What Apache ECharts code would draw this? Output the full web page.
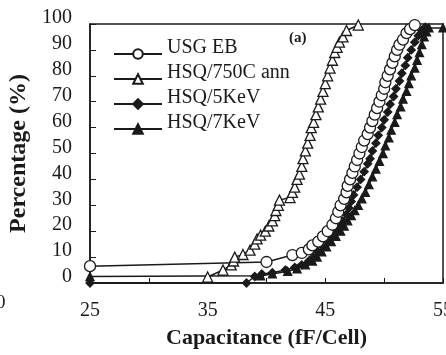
<!DOCTYPE html>
<html><head><meta charset="utf-8">
<script src="https://cdn.jsdelivr.net/npm/echarts@6/dist/echarts.min.js"></script>
<style>html,body{margin:0;padding:0;background:#fff}#c{width:446px;height:355px}</style>
</head><body><div id="c"></div>
<script>
const seriesNames = ['USG EB', 'HSQ/750C ann', 'HSQ/5KeV', 'HSQ/7KeV'];
const xTickLabels = [25, 35, 45, 55];
const yTickLabels = [0, 10, 20, 30, 40, 50, 60, 70, 80, 90, 100];

const usgEB = [[25,6.5],[40.0,8.1],[42.2,10.8],[43.0,11.6],[43.6,13],[43.9,14.5],[44.4,16],[44.8,18],[45.2,20],[45.6,22.5],[45.9,25],[46.1,27.5],[46.3,30],[46.6,32.5],[46.8,35],[46.9,37.5],[47.1,40],[47.3,42.5],[47.5,45],[47.7,47.5],[47.9,50],[48.1,52.5],[48.3,55],[48.6,57.5],[48.8,60],[49.0,62.5],[49.2,65],[49.4,67.5],[49.6,70],[49.8,72.5],[50.0,75],[50.1,77.5],[50.3,80],[50.5,82.5],[50.7,85],[50.9,87.5],[51.1,90],[51.3,92],[51.6,94],[51.9,96.5],[52.2,98],[52.6,99.6]];
const hsq750 = [[35.0,2.3],[36.3,5],[37.0,7],[37.2,8.5],[37.3,10],[38.0,11],[38.6,12.7],[39.0,15],[39.2,17],[39.5,18.5],[39.9,20],[40.2,22],[40.5,24],[40.7,26],[40.8,28],[41.0,30],[41.1,32],[42.0,33],[42.2,35],[42.4,37],[42.6,40],[42.8,42],[43.0,45],[43.1,48],[43.3,51],[43.5,54],[43.7,57],[43.8,60],[44.0,62],[44.2,65],[44.4,68],[44.6,71],[44.8,74],[45.0,77],[45.2,80],[45.4,83],[45.6,86],[45.8,89],[46.0,91],[46.2,93],[46.5,95],[46.8,97.5],[47.8,99.6]];
const hsq5 = [[25,0],[38.3,0],[39.0,2.5],[39.6,3.5],[40.5,4],[41.6,5],[42.4,6],[43.0,7],[43.6,8.5],[44.0,10],[44.4,12],[44.8,14],[45.2,16],[45.6,18],[45.9,20],[46.2,22],[46.5,24],[46.8,26.5],[47.0,29],[47.2,31.5],[47.4,34],[47.7,37],[48.0,40],[48.3,43],[48.6,46],[48.8,48],[49.0,51],[49.3,54],[49.5,57],[49.8,60],[50.0,63],[50.3,66],[50.5,69],[50.8,72],[51.0,75],[51.3,78],[51.5,81],[51.8,84],[52.0,87],[52.3,90],[52.6,93],[52.9,95.5],[53.2,97.5],[53.5,98.8]];
const hsq7 = [[25,2.5],[39.5,2.8],[40.5,3.5],[41.8,4.5],[42.6,5.5],[43.3,7],[43.9,8.5],[44.3,10],[44.7,12],[45.1,14],[45.5,16],[45.9,18],[46.3,20],[46.6,22],[46.9,24],[47.2,26],[47.5,28],[47.8,30],[48.1,32.5],[48.4,35],[48.7,38],[49.0,41],[49.3,44],[49.6,47],[49.9,50],[50.1,53],[50.4,56],[50.6,59],[50.9,62],[51.1,65],[51.4,68],[51.6,71],[51.9,74],[52.1,77],[52.3,80],[52.6,83],[52.8,86],[53.0,89],[53.2,92],[53.4,95],[53.6,97],[53.8,98.5],[55,98.5]];

const INK = '#1a1a1a';
const FONT = '"Liberation Serif", "Times New Roman", serif';
const chart = echarts.init(document.getElementById('c'), null, {renderer: 'canvas'});

function mk(name, data, symbol, size, fill, z) {
  return {
    name, type: 'line', data, symbol, symbolSize: size, z,
    showAllSymbol: true, animation: false, clip: false,
    lineStyle: {color: INK, width: 1.5},
    itemStyle: {color: fill, borderColor: INK, borderWidth: 1.3},
    emphasis: {disabled: true}
  };
}

chart.setOption({
  animation: false,
  backgroundColor: '#fff',
  textStyle: {fontFamily: FONT},
  grid: {left: 90, right: 3, top: 24, bottom: 72, show: true, borderColor: INK, borderWidth: 1.5, backgroundColor: 'transparent', outerBoundsMode: 'none'},
  legend: {
    orient: 'vertical', left: 108, top: 33,
    itemWidth: 48, itemHeight: 12, itemGap: -7,
    formatter: n => '{t|' + n + '}',
    textStyle: {fontFamily: FONT, fontSize: 20, color: INK,
      rich: {t: {fontFamily: FONT, fontSize: 20, color: INK, lineHeight: 14, padding: [0, 0, 12, 0]}}},
    data: seriesNames
  },
  xAxis: {
    type: 'value', min: 25, max: 55, interval: 5,
    name: 'Capacitance (fF/Cell)', nameLocation: 'middle', nameGap: 44,
    nameTextStyle: {fontFamily: FONT, fontSize: 22, fontWeight: 'bold', color: INK},
    axisLine: {show: true, lineStyle: {color: INK, width: 1.5}},
    axisTick: {show: true, inside: true, length: 5, lineStyle: {color: INK}},
    splitLine: {show: false},
    axisLabel: {fontFamily: FONT, fontSize: 20, color: INK, margin: 18, alignMinLabel: 'center', alignMaxLabel: 'center',
      showMinLabel: true, showMaxLabel: true, hideOverlap: false,
      formatter: v => (xTickLabels.indexOf(v) >= 0 ? String(v) : '')}
  },
  yAxis: {
    type: 'value', min: 0, max: 100, interval: 10,
    name: 'Percentage (%)', nameLocation: 'middle', nameGap: 59,
    nameTextStyle: {fontFamily: FONT, fontSize: 24, fontWeight: 'bold', color: INK},
    axisLine: {show: true, lineStyle: {color: INK, width: 1.5}},
    axisTick: {show: true, inside: true, length: 6, lineStyle: {color: INK}},
    splitLine: {show: false},
    axisLabel: {fontFamily: FONT, fontSize: 20, color: INK, margin: 18,
      verticalAlign: 'bottom', lineHeight: 12,
      showMinLabel: true, showMaxLabel: true, hideOverlap: false,
      formatter: v => (yTickLabels.indexOf(v) >= 0 ? String(v) : '')}
  },
  graphic: [
    {type: 'text', left: 289, top: 31, style: {text: '(a)', font: 'bold 15px ' + FONT, fill: INK}},
    {type: 'text', left: -4, top: 294, style: {text: '0', font: '19px ' + FONT, fill: INK}}
  ],
  series: [
    mk(seriesNames[2], hsq5, 'diamond', 8, INK, 3),
    mk(seriesNames[3], hsq7, 'triangle', 8, INK, 4),
    mk(seriesNames[0], usgEB, 'circle', 11, '#fff', 5),
    mk(seriesNames[1], hsq750, 'triangle', 10, '#fff', 6)
  ]
});
</script></body></html>
